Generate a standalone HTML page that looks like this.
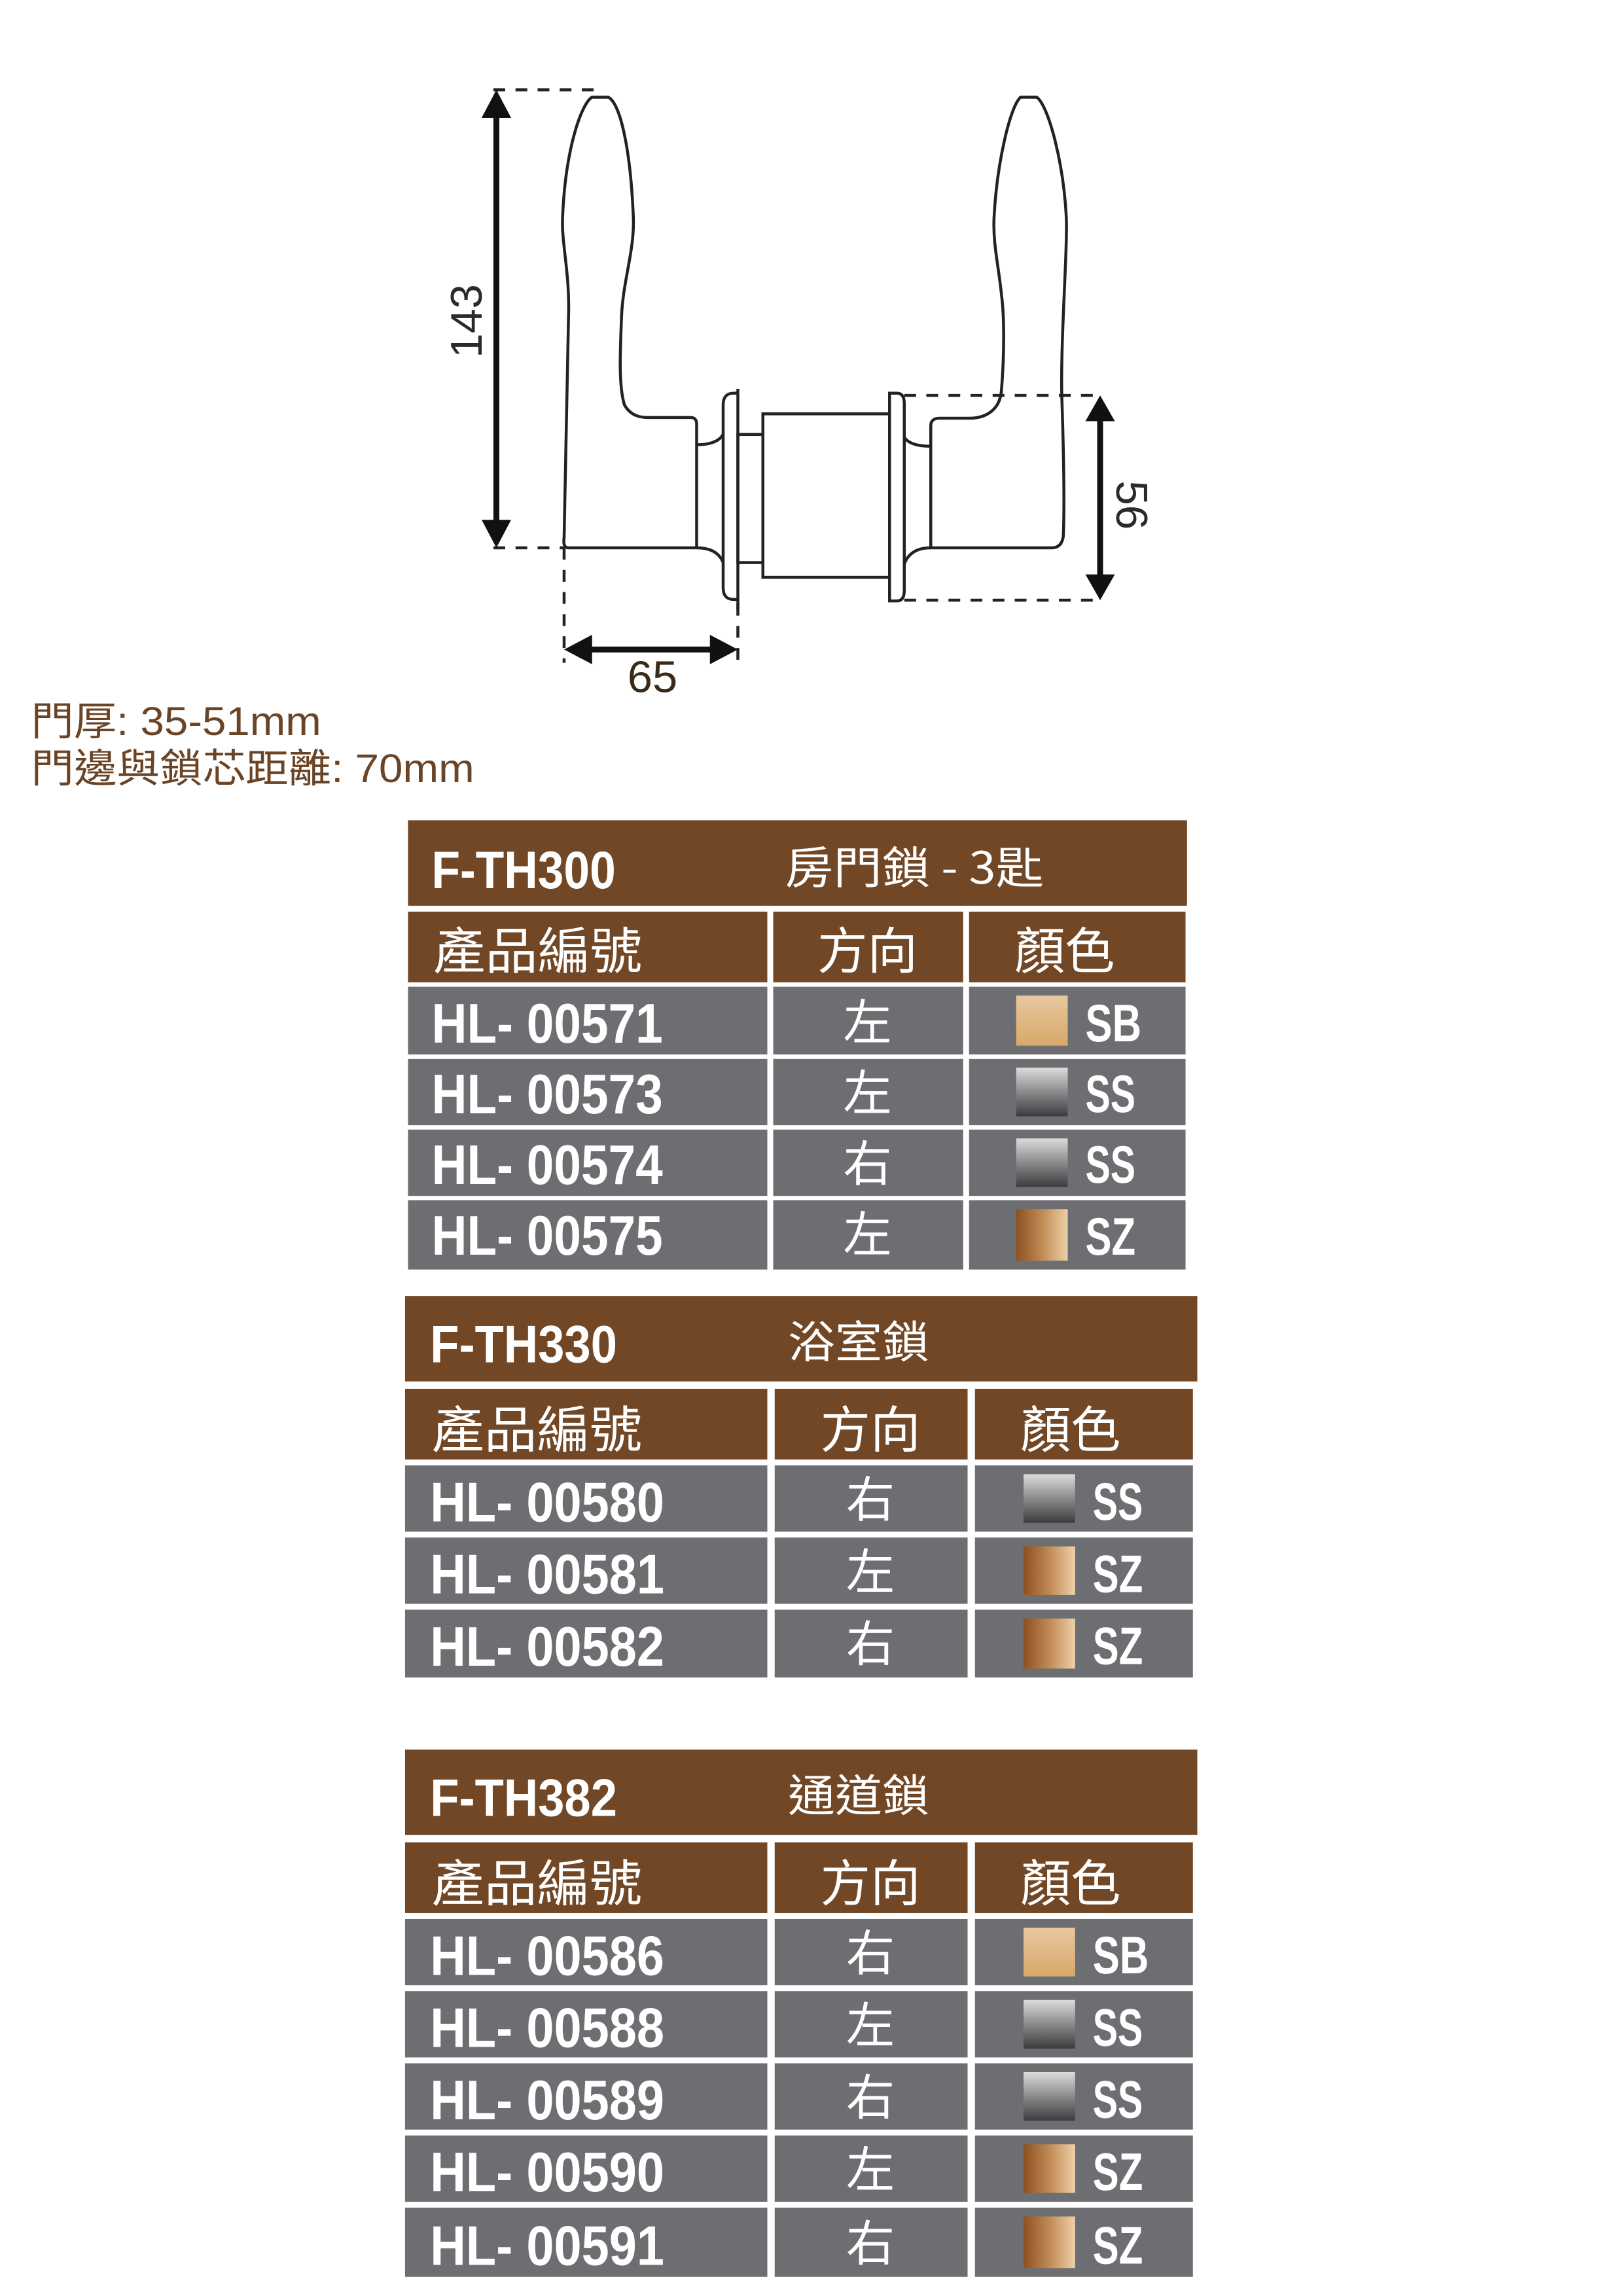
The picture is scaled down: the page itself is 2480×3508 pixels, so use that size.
<!DOCTYPE html>
<html><head><meta charset="utf-8"><style>
html,body{margin:0;padding:0;background:#fff}
svg{display:block}
.w{fill:#fff;font-family:"Liberation Sans","Noto Sans CJK TC",sans-serif;font-weight:bold}
.c{fill:#fff;font-family:"Noto Sans CJK TC","Liberation Sans",sans-serif;font-weight:normal}
</style></head><body>
<svg width="2480" height="3508" viewBox="0 0 1102 1559" xmlns="http://www.w3.org/2000/svg">
<defs>
<linearGradient id="sb" x1="0" y1="0" x2="0" y2="1"><stop offset="0" stop-color="#e9c7a0"/><stop offset="1" stop-color="#d8a868"/></linearGradient>
<linearGradient id="ss" x1="0" y1="0" x2="0" y2="1"><stop offset="0" stop-color="#dcdcdc"/><stop offset="0.5" stop-color="#8a8a8c"/><stop offset="1" stop-color="#3c3c3e"/></linearGradient>
<linearGradient id="sz" x1="0" y1="0" x2="1" y2="0"><stop offset="0" stop-color="#8e5020"/><stop offset="0.5" stop-color="#c08a55"/><stop offset="1" stop-color="#efd0a8"/></linearGradient>
</defs>

<g fill="none" stroke="#222" stroke-width="2">
<path d="M402,66 L413,66 C421,70 428,100 430,147 C431,170 423,190 422,215 C421,240 420,262 424,275 C428,282 434,283.5 440,283.5 L469,283.5 Q473,283.5 473,288 L473,372 L386,372 Q382,372 383,365 C384,300 385,250 386,215 C387,185 381,165 382,147 C384,100 395,70 402,66 Z"/>
<path d="M693,66 L704,66 C712,72 722,110 724,147 C725,170 720,230 721,270 C722,300 723,340 722,364 Q721,372 714,372 L632,372 L632,289 Q632,284 638,284 L658,284 C670,284 679,278 680,265 C682,240 682,215 680,200 C678,180 674,165 675,147 C677,110 686,72 693,66 Z"/>
<path d="M473,302 Q487,302 491,295"/>
<path d="M473,372 Q487,372 491,382"/>
<path d="M501,267 L498,267 Q491,267 491,275 L491,399 Q491,407 498,407 L501,407"/>
<line x1="501" y1="264" x2="501" y2="414"/>
<rect x="501" y="295" width="17" height="87"/>
<rect x="518" y="281" width="86" height="111"/>
<path d="M604,267 L609,267 Q614,267 614,274 L614,401 Q614,408 609,408 L604,408 Z"/>
<path d="M614,297 Q618,303 632,303"/>
<path d="M614,383 Q618,372 632,372"/>
</g>
<g stroke="#222" stroke-width="2" stroke-dasharray="8,7" fill="none">
<line x1="335" y1="61" x2="405" y2="61"/>
<line x1="335" y1="372" x2="383" y2="372"/>
<line x1="383" y1="372" x2="383" y2="450"/>
<line x1="501" y1="410" x2="501" y2="450"/>
<line x1="614" y1="268.5" x2="747" y2="268.5"/>
<line x1="614" y1="407.5" x2="747" y2="407.5"/>
</g>
<g fill="#111" stroke="#111">
<line x1="337" y1="75" x2="337" y2="358" stroke-width="4"/>
<polygon points="337,61 327,80 347,80" stroke="none"/>
<polygon points="337,372 327,353 347,353" stroke="none"/>
<line x1="747" y1="282" x2="747" y2="394" stroke-width="4"/>
<polygon points="747,268.5 737,286 757,286" stroke="none"/>
<polygon points="747,407.5 737,390 757,390" stroke="none"/>
<line x1="397" y1="441" x2="487" y2="441" stroke-width="4"/>
<polygon points="383,441 402,431 402,451" stroke="none"/>
<polygon points="501,441 482,431 482,451" stroke="none"/>
</g>
<text x="0" y="0" transform="translate(327,218) rotate(-90)" text-anchor="middle" font-family="Liberation Sans,sans-serif" font-size="30" fill="#2a2a2a">143</text>
<text x="0" y="0" transform="translate(758,343) rotate(90)" text-anchor="middle" font-family="Liberation Sans,sans-serif" font-size="30" fill="#2a2a2a">56</text>
<text x="443" y="470" text-anchor="middle" font-family="Liberation Sans,sans-serif" font-size="30" fill="#3a2a1a" textLength="34" lengthAdjust="spacingAndGlyphs">65</text>

<text x="21" y="499" font-family="Liberation Sans,'Noto Sans CJK TC',sans-serif" font-size="27" fill="#6b4426" textLength="197" lengthAdjust="spacingAndGlyphs">門厚: 35-51mm</text>
<text x="21" y="531" font-family="Liberation Sans,'Noto Sans CJK TC',sans-serif" font-size="27" fill="#6b4426" textLength="301" lengthAdjust="spacingAndGlyphs">門邊與鎖芯距離: 70mm</text>

<rect x="277" y="557" width="529" height="58" fill="#714726"/>
<text class="w" x="293" y="603" font-size="36" textLength="125" lengthAdjust="spacingAndGlyphs">F-TH300</text>
<text class="c" x="533" y="600" font-size="30" textLength="176" lengthAdjust="spacingAndGlyphs">房門鎖 - 3匙</text>
<g fill="#714726"><rect x="277" y="619" width="244" height="48"/><rect x="525" y="619" width="129" height="48"/><rect x="658" y="619" width="147" height="48"/></g>
<text class="c" x="294" y="658" font-size="34" textLength="142" lengthAdjust="spacingAndGlyphs">產品編號</text>
<text class="c" x="589" y="658" font-size="34" text-anchor="middle">方向</text>
<text class="c" x="723" y="658" font-size="34" text-anchor="middle">顏色</text>
<g fill="#6d6e71">
<rect x="277" y="670" width="244" height="46"/><rect x="525" y="670" width="129" height="46"/><rect x="658" y="670" width="147" height="46"/>
<rect x="277" y="719" width="244" height="45"/><rect x="525" y="719" width="129" height="45"/><rect x="658" y="719" width="147" height="45"/>
<rect x="277" y="767" width="244" height="45"/><rect x="525" y="767" width="129" height="45"/><rect x="658" y="767" width="147" height="45"/>
<rect x="277" y="815" width="244" height="47"/><rect x="525" y="815" width="129" height="47"/><rect x="658" y="815" width="147" height="47"/>
</g>
<rect x="690" y="676" width="35" height="34" fill="url(#sb)"/>
<rect x="690" y="725" width="35" height="33" fill="url(#ss)"/>
<rect x="690" y="773" width="35" height="33" fill="url(#ss)"/>
<rect x="690" y="821" width="35" height="35" fill="url(#sz)"/>
<text class="w" x="293" y="708" font-size="38" textLength="157" lengthAdjust="spacingAndGlyphs">HL- 00571</text>
<text class="w" x="293" y="756" font-size="38" textLength="157" lengthAdjust="spacingAndGlyphs">HL- 00573</text>
<text class="w" x="293" y="804" font-size="38" textLength="157" lengthAdjust="spacingAndGlyphs">HL- 00574</text>
<text class="w" x="293" y="852" font-size="38" textLength="157" lengthAdjust="spacingAndGlyphs">HL- 00575</text>
<text class="c" x="589" y="706" font-size="33" text-anchor="middle">左</text>
<text class="c" x="589" y="754" font-size="33" text-anchor="middle">左</text>
<text class="c" x="589" y="802" font-size="33" text-anchor="middle">右</text>
<text class="c" x="589" y="850" font-size="33" text-anchor="middle">左</text>
<text class="w" x="737" y="707" font-size="36" textLength="38" lengthAdjust="spacingAndGlyphs">SB</text>
<text class="w" x="737" y="755" font-size="36" textLength="34" lengthAdjust="spacingAndGlyphs">SS</text>
<text class="w" x="737" y="803" font-size="36" textLength="34" lengthAdjust="spacingAndGlyphs">SS</text>
<text class="w" x="737" y="852" font-size="36" textLength="34" lengthAdjust="spacingAndGlyphs">SZ</text>

<rect x="275" y="880" width="538" height="58" fill="#714726"/>
<text class="w" x="292" y="925" font-size="36" textLength="127" lengthAdjust="spacingAndGlyphs">F-TH330</text>
<text class="c" x="535" y="922" font-size="30" textLength="96" lengthAdjust="spacingAndGlyphs">浴室鎖</text>
<g fill="#714726"><rect x="275" y="943" width="246" height="48"/><rect x="526" y="943" width="131" height="48"/><rect x="662" y="943" width="148" height="48"/></g>
<text class="c" x="293" y="983" font-size="34" textLength="143" lengthAdjust="spacingAndGlyphs">產品編號</text>
<text class="c" x="591" y="983" font-size="34" text-anchor="middle">方向</text>
<text class="c" x="727" y="983" font-size="34" text-anchor="middle">顏色</text>
<g fill="#6d6e71">
<rect x="275" y="995" width="246" height="45"/><rect x="526" y="995" width="131" height="45"/><rect x="662" y="995" width="148" height="45"/>
<rect x="275" y="1044" width="246" height="45"/><rect x="526" y="1044" width="131" height="45"/><rect x="662" y="1044" width="148" height="45"/>
<rect x="275" y="1093" width="246" height="46"/><rect x="526" y="1093" width="131" height="46"/><rect x="662" y="1093" width="148" height="46"/>
</g>
<rect x="695" y="1001" width="35" height="33" fill="url(#ss)"/>
<rect x="695" y="1050" width="35" height="33" fill="url(#sz)"/>
<rect x="695" y="1099" width="35" height="34" fill="url(#sz)"/>
<text class="w" x="292" y="1033" font-size="38" textLength="159" lengthAdjust="spacingAndGlyphs">HL- 00580</text>
<text class="w" x="292" y="1082" font-size="38" textLength="159" lengthAdjust="spacingAndGlyphs">HL- 00581</text>
<text class="w" x="292" y="1131" font-size="38" textLength="159" lengthAdjust="spacingAndGlyphs">HL- 00582</text>
<text class="c" x="591" y="1030" font-size="33" text-anchor="middle">右</text>
<text class="c" x="591" y="1079" font-size="33" text-anchor="middle">左</text>
<text class="c" x="591" y="1128" font-size="33" text-anchor="middle">右</text>
<text class="w" x="742" y="1032" font-size="36" textLength="34" lengthAdjust="spacingAndGlyphs">SS</text>
<text class="w" x="742" y="1081" font-size="36" textLength="34" lengthAdjust="spacingAndGlyphs">SZ</text>
<text class="w" x="742" y="1130" font-size="36" textLength="34" lengthAdjust="spacingAndGlyphs">SZ</text>

<rect x="275" y="1188" width="538" height="58" fill="#714726"/>
<text class="w" x="292" y="1233" font-size="36" textLength="127" lengthAdjust="spacingAndGlyphs">F-TH382</text>
<text class="c" x="535" y="1230" font-size="30" textLength="96" lengthAdjust="spacingAndGlyphs">通道鎖</text>
<g fill="#714726"><rect x="275" y="1251" width="246" height="48"/><rect x="526" y="1251" width="131" height="48"/><rect x="662" y="1251" width="148" height="48"/></g>
<text class="c" x="293" y="1291" font-size="34" textLength="143" lengthAdjust="spacingAndGlyphs">產品編號</text>
<text class="c" x="591" y="1291" font-size="34" text-anchor="middle">方向</text>
<text class="c" x="727" y="1291" font-size="34" text-anchor="middle">顏色</text>
<g fill="#6d6e71">
<rect x="275" y="1303" width="246" height="45"/><rect x="526" y="1303" width="131" height="45"/><rect x="662" y="1303" width="148" height="45"/>
<rect x="275" y="1352" width="246" height="45"/><rect x="526" y="1352" width="131" height="45"/><rect x="662" y="1352" width="148" height="45"/>
<rect x="275" y="1401" width="246" height="45"/><rect x="526" y="1401" width="131" height="45"/><rect x="662" y="1401" width="148" height="45"/>
<rect x="275" y="1450" width="246" height="45"/><rect x="526" y="1450" width="131" height="45"/><rect x="662" y="1450" width="148" height="45"/>
<rect x="275" y="1499" width="246" height="47"/><rect x="526" y="1499" width="131" height="47"/><rect x="662" y="1499" width="148" height="47"/>
</g>
<rect x="695" y="1309" width="35" height="33" fill="url(#sb)"/>
<rect x="695" y="1358" width="35" height="33" fill="url(#ss)"/>
<rect x="695" y="1407" width="35" height="33" fill="url(#ss)"/>
<rect x="695" y="1456" width="35" height="33" fill="url(#sz)"/>
<rect x="695" y="1505" width="35" height="35" fill="url(#sz)"/>
<text class="w" x="292" y="1341" font-size="38" textLength="159" lengthAdjust="spacingAndGlyphs">HL- 00586</text>
<text class="w" x="292" y="1390" font-size="38" textLength="159" lengthAdjust="spacingAndGlyphs">HL- 00588</text>
<text class="w" x="292" y="1439" font-size="38" textLength="159" lengthAdjust="spacingAndGlyphs">HL- 00589</text>
<text class="w" x="292" y="1488" font-size="38" textLength="159" lengthAdjust="spacingAndGlyphs">HL- 00590</text>
<text class="w" x="292" y="1538" font-size="38" textLength="159" lengthAdjust="spacingAndGlyphs">HL- 00591</text>
<text class="c" x="591" y="1338" font-size="33" text-anchor="middle">右</text>
<text class="c" x="591" y="1387" font-size="33" text-anchor="middle">左</text>
<text class="c" x="591" y="1436" font-size="33" text-anchor="middle">右</text>
<text class="c" x="591" y="1485" font-size="33" text-anchor="middle">左</text>
<text class="c" x="591" y="1535" font-size="33" text-anchor="middle">右</text>
<text class="w" x="742" y="1340" font-size="36" textLength="38" lengthAdjust="spacingAndGlyphs">SB</text>
<text class="w" x="742" y="1389" font-size="36" textLength="34" lengthAdjust="spacingAndGlyphs">SS</text>
<text class="w" x="742" y="1438" font-size="36" textLength="34" lengthAdjust="spacingAndGlyphs">SS</text>
<text class="w" x="742" y="1487" font-size="36" textLength="34" lengthAdjust="spacingAndGlyphs">SZ</text>
<text class="w" x="742" y="1537" font-size="36" textLength="34" lengthAdjust="spacingAndGlyphs">SZ</text>
</svg>
</body></html>
